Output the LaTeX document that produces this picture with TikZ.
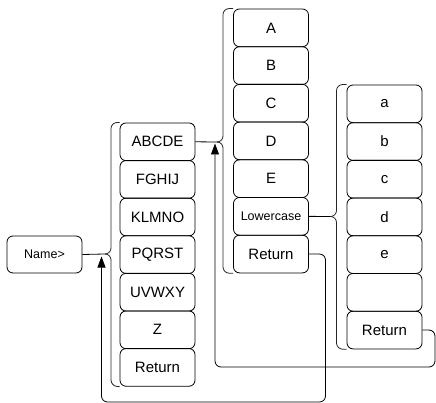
\documentclass[tikz,border=0pt]{standalone}
\usepackage{fontspec}
\setmainfont{Liberation Sans}
\usetikzlibrary{arrows.meta}
\tikzset{
  menubox/.style={draw=black, line width=0.8pt, rounded corners=6pt, minimum width=75pt, minimum height=37.7pt, inner sep=0pt, font=\fontsize{15}{18}\selectfont},
  smalltxt/.style={font=\fontsize{12.5}{15}\selectfont},
  conn/.style={draw=black, line width=0.8pt},
  brk/.style={draw=black!85, line width=0.8pt, rounded corners=6pt},
  ret/.style={draw=black, line width=0.8pt, rounded corners=6pt, -{Triangle[width=8pt,length=11pt]}}
}
\begin{document}
\begin{tikzpicture}[x=1pt, y=-1pt]
\useasboundingbox (0,0) rectangle (436,403);
% Name> box
\node[menubox, smalltxt, minimum height=37pt] (name) at (44.5,254.5) {Name>};
% column 1
\foreach \t [count=\i] in {ABCDE,FGHIJ,KLMNO,PQRST,UVWXY,Z,Return}
  \node[menubox] (c1-\i) at (157.5, 123+37.6*\i-18.8) {\t};
% column 2
\foreach \t [count=\i] in {A,B,C,D,E}
  \node[menubox] (c2-\i) at (271, 9+37.7*\i-18.85) {\t};
\node[menubox, smalltxt] (c2-6) at (271, 9+37.7*6-18.85) {Lowercase};
\node[menubox] (c2-7) at (271, 9+37.7*7-18.85) {Return};
% column 3
\foreach \t [count=\i] in {a,b,c,d,e}
  \node[menubox] (c3-\i) at (384.5, 85+37.7*\i-18.85) {\t};
\node[menubox] (c3-6) at (384.5, 85+37.7*6-18.85) {};
\node[menubox] (c3-7) at (384.5, 85+37.7*7-18.85) {Return};
% cusps
\coordinate (k1) at (104.5,254);
\coordinate (k2) at (217,142);
\coordinate (k3) at (330.5,216.5);
% brackets
\draw[brk] (c1-1.north west) -| (111,254) -- (k1);
\draw[brk] (k1) -| (111,386) -- (c1-7.south west);
\draw[brk] (c2-1.north west) -| (223,142) -- (k2);
\draw[brk] (k2) -| (223,273) -- (c2-7.south west);
\draw[brk] (c3-1.north west) -| (336.5,216.5) -- (k3);
\draw[brk] (k3) -| (336.5,349) -- (c3-7.south west);
% connectors
\draw[conn] (name.east) -- (k1);
\draw[conn] (c1-1.east) -- (k2);
\draw[conn] (c2-6.east) -- (k3);
% return paths
\coordinate (b1) at (325.5,402);
\coordinate (t1) at (101.5,256.5);
\coordinate (b2) at (435,367);
\coordinate (t2) at (215,143.5);
\draw[ret] (c2-7.east) -| (b1) -| (t1);
\draw[ret] (c3-7.east) -| (b2) -| (t2);
\end{tikzpicture}
\end{document}
